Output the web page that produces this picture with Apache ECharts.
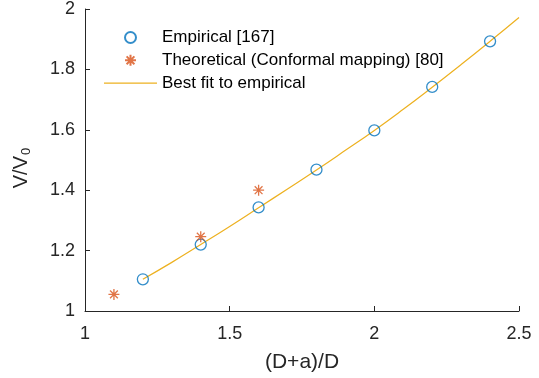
<!DOCTYPE html>
<html><head><meta charset="utf-8">
<script src="https://cdn.jsdelivr.net/npm/echarts@6/dist/echarts.min.js"></script>
<style>html,body{margin:0;padding:0;background:#fff}#c{width:539px;height:378px}</style>
</head><body><div id="c"></div>
<script>
const empiricalX = [1.2, 1.4, 1.6, 1.8, 2.0, 2.2, 2.4];
const empiricalY = [1.105, 1.22, 1.343, 1.468, 1.598, 1.742, 1.893];
const theoreticalX = [1.1, 1.4, 1.6];
const theoreticalY = [1.055, 1.246, 1.40];
const fitX = [1.2, 1.3, 1.4, 1.5, 1.6, 1.7, 1.8, 1.9, 2.0, 2.1, 2.2, 2.3, 2.4, 2.5];
const fitY = [1.105, 1.161, 1.22, 1.28, 1.342, 1.404, 1.467, 1.532, 1.598, 1.668, 1.741, 1.816, 1.893, 1.972];
const xTicks = [1, 1.5, 2, 2.5];
const yTicks = [1, 1.2, 1.4, 1.6, 1.8, 2];

const zip = (a, b) => a.map((v, i) => [v, b[i]]);
const font = '"Liberation Sans", Arial, Helvetica, sans-serif';
const axisCol = '#262626';
const star = 'path://M0,-5L0,5M-5,0L5,0M-3.54,-3.54L3.54,3.54M-3.54,3.54L3.54,-3.54';
const lineIcon = 'path://M0,0H53V1.3H0Z';

const chart = echarts.init(document.getElementById('c'), null, {renderer: 'canvas'});
chart.setOption({
  animation: false,
  textStyle: {fontFamily: font},
  grid: {left: 85, right: 20, top: 8, bottom: 66, containLabel: false},
  legend: {
    orient: 'vertical', left: 104, top: 29, padding: 0, itemWidth: 53, itemHeight: 11, itemGap: 5.8,
    symbolKeepAspect: true,
    textStyle: {fontFamily: font, fontSize: 17, color: '#000'},
    data: [
      {name: 'Empirical [167]', icon: 'circle'},
      {name: 'Theoretical (Conformal mapping) [80]', icon: star},
      {name: 'Best fit to empirical', icon: lineIcon}
    ]
  },
  xAxis: {
    type: 'value', min: xTicks[0], max: xTicks[xTicks.length - 1], interval: 0.5,
    name: '(D+a)/D', nameLocation: 'middle', nameGap: 41,
    nameTextStyle: {fontSize: 21, color: axisCol, fontFamily: font},
    axisLine: {lineStyle: {color: axisCol, width: 1}},
    axisTick: {inside: true, length: 5, lineStyle: {color: axisCol}},
    axisLabel: {fontSize: 18, color: axisCol, margin: 14, fontFamily: font},
    splitLine: {show: false}
  },
  yAxis: {
    type: 'value', min: yTicks[0], max: yTicks[yTicks.length - 1], interval: 0.2,
    name: '{a|V/V}{b|0}', nameLocation: 'middle', nameGap: 52, nameRotate: 90,
    nameTextStyle: {
      fontSize: 20, color: axisCol, fontFamily: font,
      rich: {
        a: {fontSize: 20, color: axisCol, fontFamily: font},
        b: {fontSize: 13, color: axisCol, fontFamily: font, padding: [10, 16, 0, 1]}
      }
    },
    axisLine: {show: true, lineStyle: {color: axisCol, width: 1}},
    axisTick: {show: true, inside: true, length: 5, lineStyle: {color: axisCol}},
    axisLabel: {fontSize: 18, color: axisCol, margin: 10, fontFamily: font,
      formatter: v => String(Math.round(v * 10) / 10)},
    splitLine: {show: false}
  },
  series: [
    {
      name: 'Empirical [167]', type: 'scatter', data: zip(empiricalX, empiricalY),
      symbol: 'circle', symbolSize: 11, z: 3,
      itemStyle: {color: 'rgba(0,0,0,0)', borderColor: '#0072BD', borderWidth: 1.3}
    },
    {
      name: 'Theoretical (Conformal mapping) [80]', type: 'scatter', data: zip(theoreticalX, theoreticalY),
      symbol: star, symbolSize: 11, z: 3,
      itemStyle: {color: 'rgba(0,0,0,0)', borderColor: '#D95319', borderWidth: 1.3}
    },
    {
      name: 'Best fit to empirical', type: 'line', data: zip(fitX, fitY),
      showSymbol: false, symbol: 'none', smooth: true, z: 2,
      lineStyle: {color: '#EDB120', width: 1.2}, itemStyle: {color: '#EDB120'}
    }
  ]
});
</script></body></html>
